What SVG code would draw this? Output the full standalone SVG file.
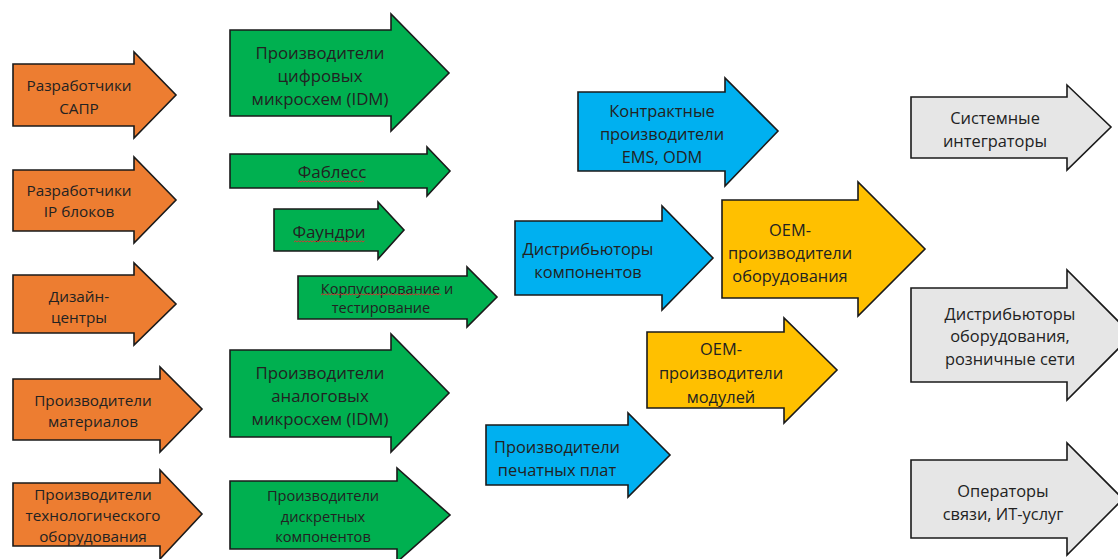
<svg xmlns="http://www.w3.org/2000/svg" width="1118" height="559" viewBox="0 0 1118 559">
<style>
.a{stroke:#1a1a1a;stroke-width:1.6;stroke-linejoin:miter}
.o{fill:#ED7D31}.g{fill:#00B050}.b{fill:#00B0F0}.y{fill:#FFC000}.s{fill:#E6E6E6}
text{font-family:"Open Sans","Liberation Sans",sans-serif;fill:#222;text-anchor:middle;dominant-baseline:central}
.t15{font-size:15.3px}.t17{font-size:16.8px}.t16{font-size:16.4px}.t13{font-size:14.5px}.tf{font-size:17px}.td{font-size:14.6px}
.sp{fill:none;stroke:#e03030;stroke-width:0.9}
</style>
<rect width="1118" height="559" fill="#fff"/>
<g id="connectors"/>
<g id="n-sapr"><path class="a o" d="M13,64H134V52L176,95L134,138V126H13Z"/><text class="t15" x="79" y="85">Разработчики</text><text class="t15" x="79" y="108">САПР</text></g>
<g id="n-ip"><path class="a o" d="M13,170H134V157L176,200L134,243V231H13Z"/><text class="t15" x="79" y="190">Разработчики</text><text class="t15" x="79" y="211">IP блоков</text></g>
<g id="n-design"><path class="a o" d="M13,275H134V263L176,304L134,345V333H13Z"/><text class="t15" x="79" y="296">Дизайн-</text><text class="t15" x="79" y="317">центры</text></g>
<g id="n-mat"><path class="a o" d="M13,379H160V367L202,409L160,452V440H13Z"/><text class="t15" x="93" y="400">Производители</text><text class="t15" x="93" y="421">материалов</text></g>
<g id="n-tech"><path class="a o" d="M13,483H160V470L202,514L160,559V546H13Z"/><text class="t15" x="93" y="494">Производители</text><text class="t15" x="93" y="515">технологического</text><text class="t15" x="93" y="536">оборудования</text></g>
<g id="n-digital"><path class="a g" d="M230,30H391V14L449,73L391,131V116H230Z"/><text class="t17" x="320" y="52">Производители</text><text class="t17" x="320" y="75">цифровых</text><text class="t17" x="320" y="98">микросхем (IDM)</text></g>
<g id="n-fabless"><path class="a g" d="M230,154H427V147L450,171L427,196V188H230Z"/><text class="tf" x="332" y="171">Фаблесс</text><path class="sp" d="M298,182l1.5,-1.2l1.5,1.2l1.5,-1.2l1.5,1.2l1.5,-1.2l1.5,1.2l1.5,-1.2l1.5,1.2l1.5,-1.2l1.5,1.2l1.5,-1.2l1.5,1.2l1.5,-1.2l1.5,1.2l1.5,-1.2l1.5,1.2l1.5,-1.2l1.5,1.2l1.5,-1.2l1.5,1.2l1.5,-1.2l1.5,1.2l1.5,-1.2l1.5,1.2l1.5,-1.2l1.5,1.2l1.5,-1.2l1.5,1.2l1.5,-1.2l1.5,1.2l1.5,-1.2l1.5,1.2l1.5,-1.2l1.5,1.2l1.5,-1.2l1.5,1.2l1.5,-1.2l1.5,1.2l1.5,-1.2l1.5,1.2l1.5,-1.2l1.5,1.2l1.5,-1.2l1.5,1.2"/></g>
<g id="n-foundry"><path class="a g" d="M274,209H378V202L404,230L378,259V251H274Z"/><text class="tf" x="329" y="231">Фаундри</text><path class="sp" d="M294,242l1.5,-1.2l1.5,1.2l1.5,-1.2l1.5,1.2l1.5,-1.2l1.5,1.2l1.5,-1.2l1.5,1.2l1.5,-1.2l1.5,1.2l1.5,-1.2l1.5,1.2l1.5,-1.2l1.5,1.2l1.5,-1.2l1.5,1.2l1.5,-1.2l1.5,1.2l1.5,-1.2l1.5,1.2l1.5,-1.2l1.5,1.2l1.5,-1.2l1.5,1.2l1.5,-1.2l1.5,1.2l1.5,-1.2l1.5,1.2l1.5,-1.2l1.5,1.2l1.5,-1.2l1.5,1.2l1.5,-1.2l1.5,1.2l1.5,-1.2l1.5,1.2l1.5,-1.2l1.5,1.2l1.5,-1.2l1.5,1.2l1.5,-1.2l1.5,1.2l1.5,-1.2l1.5,1.2l1.5,-1.2l1.5,1.2l1.5,-1.2"/></g>
<g id="n-pack"><path class="a g" d="M298,276H467V267L497,297L467,327V319H298Z"/><text class="t13" x="387" y="288">Корпусирование и</text><text class="t13" x="381" y="307">тестирование</text><path class="sp" d="M321,295l1.5,-1.2l1.5,1.2l1.5,-1.2l1.5,1.2l1.5,-1.2l1.5,1.2l1.5,-1.2l1.5,1.2l1.5,-1.2l1.5,1.2l1.5,-1.2l1.5,1.2l1.5,-1.2l1.5,1.2l1.5,-1.2l1.5,1.2l1.5,-1.2l1.5,1.2l1.5,-1.2l1.5,1.2l1.5,-1.2l1.5,1.2l1.5,-1.2l1.5,1.2l1.5,-1.2l1.5,1.2l1.5,-1.2l1.5,1.2l1.5,-1.2l1.5,1.2l1.5,-1.2l1.5,1.2l1.5,-1.2l1.5,1.2l1.5,-1.2l1.5,1.2l1.5,-1.2l1.5,1.2l1.5,-1.2l1.5,1.2l1.5,-1.2l1.5,1.2l1.5,-1.2l1.5,1.2l1.5,-1.2l1.5,1.2l1.5,-1.2l1.5,1.2l1.5,-1.2l1.5,1.2l1.5,-1.2l1.5,1.2l1.5,-1.2l1.5,1.2l1.5,-1.2l1.5,1.2l1.5,-1.2l1.5,1.2l1.5,-1.2l1.5,1.2l1.5,-1.2l1.5,1.2l1.5,-1.2l1.5,1.2l1.5,-1.2l1.5,1.2l1.5,-1.2l1.5,1.2l1.5,-1.2l1.5,1.2l1.5,-1.2l1.5,1.2l1.5,-1.2l1.5,1.2l1.5,-1.2l1.5,1.2l1.5,-1.2l1.5,1.2l1.5,-1.2l1.5,1.2"/></g>
<g id="n-analog"><path class="a g" d="M230,350H391V334L449,393L391,452V437H230Z"/><text class="t17" x="320" y="372">Производители</text><text class="t17" x="320" y="395">аналоговых</text><text class="t17" x="320" y="418">микросхем (IDM)</text></g>
<g id="n-discrete"><path class="a g" d="M230,481H397V468L450,515L397,562V549H230Z"/><text class="td" x="323" y="495">Производители</text><text class="td" x="323" y="516">дискретных</text><text class="td" x="323" y="536">компонентов</text></g>
<g id="n-ems"><path class="a b" d="M578,92H725V78L778,131L725,186V171H578Z"/><text class="t16" x="662" y="110">Контрактные</text><text class="t16" x="662" y="133">производители</text><text class="t16" x="662" y="156">EMS, ODM</text></g>
<g id="n-distcomp"><path class="a b" d="M515,221H662V206L713,258L662,310V295H515Z"/><text class="t16" x="588" y="248">Дистрибьюторы</text><text class="t16" x="588" y="271">компонентов</text></g>
<g id="n-oem"><path class="a y" d="M722,200H858V182L925,249L858,316V298H722Z"/><text class="t16" x="790" y="229">OEM-</text><text class="t16" x="790" y="252">производители</text><text class="t16" x="790" y="275">оборудования</text></g>
<g id="n-oemmod"><path class="a y" d="M647,332H784V318L837,370L784,423V408H647Z"/><text class="t16" x="721" y="348">OEM-</text><text class="t16" x="721" y="372">производители</text><text class="t16" x="721" y="396">модулей</text></g>
<g id="n-pcb"><path class="a b" d="M486,425H628V413L670,455L628,497V485H486Z"/><text class="t16" x="557" y="446">Производители</text><text class="t16" x="557" y="469">печатных плат</text></g>
<g id="n-si"><path class="a s" d="M911,97H1067V85L1111,127L1067,170V158H911Z"/><text class="t16" x="995" y="117">Системные</text><text class="t16" x="995" y="140">интеграторы</text></g>
<g id="n-distequip"><path class="a s" d="M911,288H1067V270L1132,335L1067,400V382H911Z"/><text class="t16" x="1010" y="313">Дистрибьюторы</text><text class="t16" x="1010" y="335">оборудования,</text><text class="t16" x="1010" y="358">розничные сети</text></g>
<g id="n-ops"><path class="a s" d="M911,460H1067V443L1123,499L1067,555V538H911Z"/><text class="t16" x="1003" y="490">Операторы</text><text class="t16" x="1003" y="513">связи, ИТ-услуг</text></g>
</svg>
